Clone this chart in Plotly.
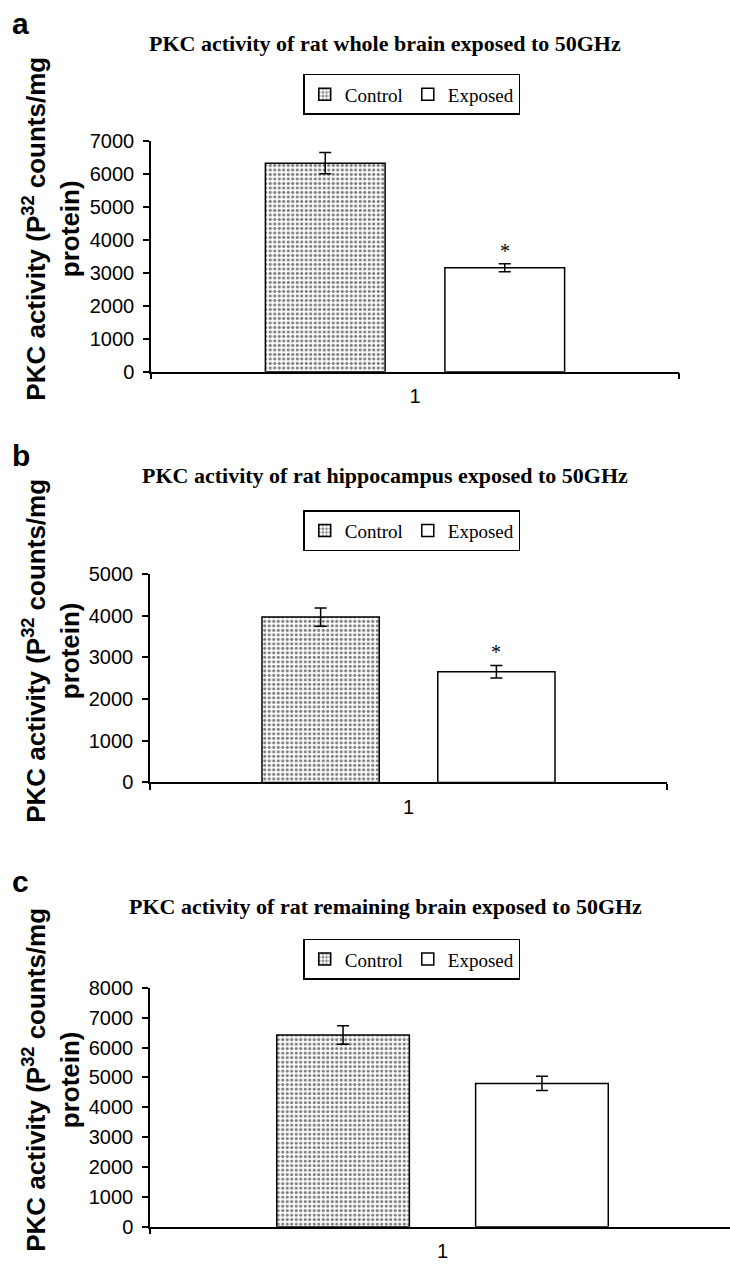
import plotly.graph_objects as go

# ---- data -------------------------------------------------------------
panel_letters = ["a", "b", "c"]
panel_titles = [
    "PKC activity of rat whole brain exposed to 50GHz",
    "PKC activity of rat hippocampus exposed to 50GHz",
    "PKC activity of rat remaining brain exposed to 50GHz",
]
categories = ["1"]
control_mean = [6320, 3970, 6420]
control_err = [320, 220, 310]
exposed_mean = [3150, 2660, 4800]
exposed_err = [120, 150, 240]
exposed_significant = [True, True, False]
y_max = [7000, 5000, 8000]
series_names = ["Control", "Exposed"]

# ---- page geometry (pixels) -------------------------------------------
W, H = 730, 1278
# left, right (full category width), top (y max), bottom (y = 0)
plot_boxes = [
    (151, 679, 132, 367),
    (150, 667, 573, 785),
    (150, 735, 994, 1237),
]
legend_tops = [64, 508, 944]
title_y = [33, 473, 911]
letter_y = [13, 452, 886]

BARGAP = 0.32
BARGROUPGAP = 0.333

SANS = "Liberation Sans, Arial, sans-serif"
SERIF = "Liberation Serif, Times New Roman, serif"


def px_x(x):
    return x / W


def px_y(y):
    return 1 - y / H


fig = go.Figure()
annotations = []
layout_axes = {}

for i in range(3):
    n = "" if i == 0 else str(i + 1)
    xa, ya = "x" + n, "y" + n
    legend_id = "legend" + n
    left, right, top, bottom = plot_boxes[i]
    vis_right = min(right, W)

    fig.add_trace(go.Bar(
        x=categories, y=[control_mean[i]], name=series_names[0],
        xaxis=xa, yaxis=ya, legend=legend_id,
        marker=dict(color="white", line=dict(color="black", width=1.5),
                    pattern=dict(shape=".", fgcolor="black", bgcolor="white",
                                 size=4.5, solidity=0.4)),
        error_y=dict(type="data", array=[control_err[i]], color="black",
                     thickness=1.5, width=6),
    ))
    fig.add_trace(go.Bar(
        x=categories, y=[exposed_mean[i]], name=series_names[1],
        xaxis=xa, yaxis=ya, legend=legend_id,
        marker=dict(color="white", line=dict(color="black", width=1.5)),
        error_y=dict(type="data", array=[exposed_err[i]], color="black",
                     thickness=1.5, width=6),
    ))

    full_w = right - left
    x_range = [-0.5, -0.5 + (vis_right - left) / full_w]
    layout_axes["xaxis" + n] = dict(
        type="category", anchor=ya, domain=[px_x(left), px_x(vis_right)],
        range=x_range, tickson="boundaries", ticks="outside", ticklen=6,
        tickwidth=1.5, tickcolor="black", showline=True, linecolor="black",
        linewidth=1.5, showgrid=False, ticklabelstandoff=6,
        tickfont=dict(family=SANS, size=20, color="black"), fixedrange=True,
    )
    layout_axes["yaxis" + n] = dict(
        anchor=xa, domain=[px_y(bottom), px_y(top)], range=[0, y_max[i]],
        dtick=1000, ticks="outside", ticklen=6, tickwidth=1.5,
        tickcolor="black", showline=True, linecolor="black", linewidth=1.5,
        showgrid=False, zeroline=False, ticklabelstandoff=5,
        tickfont=dict(family=SANS, size=20, color="black"), fixedrange=True,
    )
    layout_axes[legend_id] = dict(
        orientation="h", x=0.564, xanchor="center", y=px_y(legend_tops[i]),
        yanchor="top", bgcolor="white", bordercolor="black", borderwidth=1.5,
        font=dict(family=SERIF, size=19, color="black"), itemwidth=30,
        tracegroupgap=0, traceorder="normal",
    )

    # panel letter and title
    annotations.append(dict(
        text="<b>" + panel_letters[i] + "</b>", xref="paper", yref="paper",
        x=px_x(10), y=px_y(letter_y[i]), xanchor="left", yanchor="middle",
        showarrow=False, font=dict(family=SANS, size=30, color="black"),
    ))
    annotations.append(dict(
        text="<b>" + panel_titles[i] + "</b>", xref="paper", yref="paper",
        x=px_x(385), y=px_y(title_y[i]), xanchor="center", yanchor="middle",
        showarrow=False, font=dict(family=SERIF, size=22, color="black"),
    ))
    # y-axis title (two lines, rotated)
    annotations.append(dict(
        text="<b>PKC activity (P<sup>32</sup> counts/mg<br>protein)</b>",
        xref="paper", yref="paper", x=px_x(52),
        y=px_y((top + bottom) / 2 - 28), xanchor="center", yanchor="middle",
        textangle=-90, showarrow=False, align="center",
        font=dict(family=SANS, size=26, color="black"),
    ))
    # significance marker above the exposed bar
    if exposed_significant[i]:
        annotations.append(dict(
            text="*", xref=xa, yref=ya, x=(1 - BARGAP) / 4,
            y=exposed_mean[i] + exposed_err[i], xanchor="center",
            yanchor="middle", yshift=13, showarrow=False,
            font=dict(family=SERIF, size=20, color="black"),
        ))

fig.update_layout(
    width=W, height=H, margin=dict(l=0, r=0, t=0, b=0),
    paper_bgcolor="white", plot_bgcolor="white",
    barmode="group", bargap=BARGAP, bargroupgap=BARGROUPGAP,
    annotations=annotations, **layout_axes,
)

fig.write_html("out.html")
